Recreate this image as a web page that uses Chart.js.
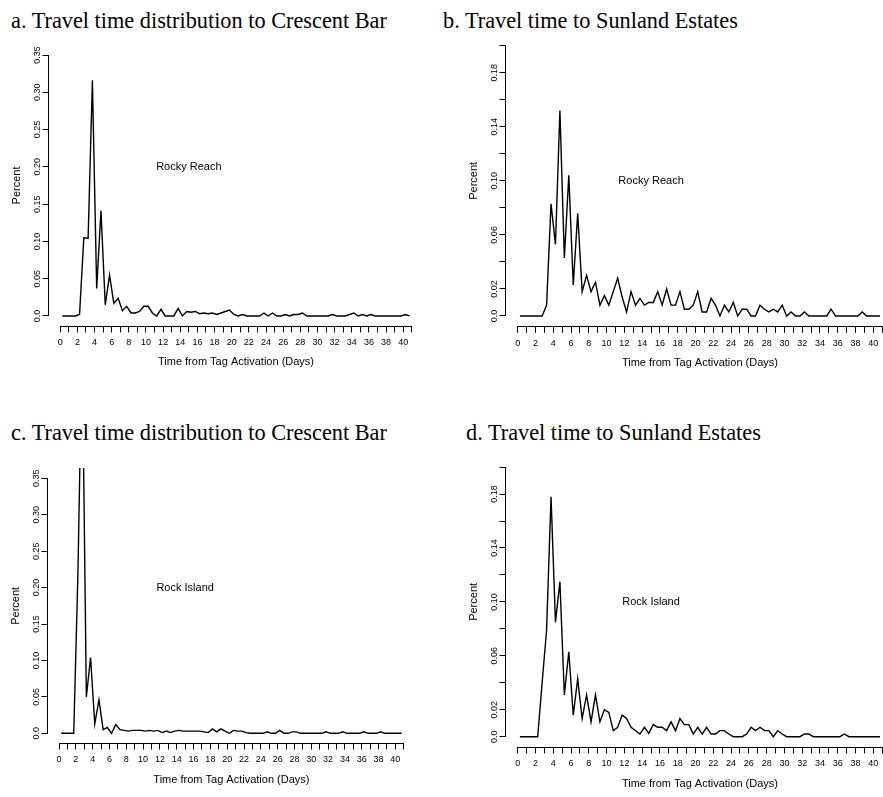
<!DOCTYPE html>
<html><head><meta charset="utf-8">
<script src="https://cdn.jsdelivr.net/npm/chart.js@4.4.1/dist/chart.umd.min.js"></script>
<style>
html,body{margin:0;padding:0;background:#fff;width:883px;height:797px;overflow:hidden;position:relative}
canvas{position:absolute}
.ttl{position:absolute;font-family:'Liberation Serif','Times New Roman',serif;font-size:22.3px;line-height:22px;white-space:nowrap;color:#000}
</style></head><body>
<div class="ttl" style="left:11px;top:10px">a. Travel time distribution to Crescent Bar</div>
<div class="ttl" style="left:443px;top:10px">b. Travel time to Sunland Estates</div>
<div class="ttl" style="left:11px;top:421.5px">c. Travel time distribution to Crescent Bar</div>
<div class="ttl" style="left:466px;top:421.5px">d. Travel time to Sunland Estates</div>
<canvas id="ca" width="430" height="332" style="left:0px;top:40px"></canvas>
<canvas id="cb" width="443" height="342" style="left:457px;top:30px"></canvas>
<canvas id="cc" width="430" height="330" style="left:-0.7px;top:460px"></canvas>
<canvas id="cd" width="443" height="343" style="left:457px;top:450px"></canvas>
<script>
// x positions (days) of the half-day bins
const days = [0.25,0.75,1.25,1.75,2.25,2.75,3.25,3.75,4.25,4.75,5.25,5.75,6.25,6.75,7.25,7.75,8.25,8.75,9.25,9.75,
  10.25,10.75,11.25,11.75,12.25,12.75,13.25,13.75,14.25,14.75,15.25,15.75,16.25,16.75,17.25,17.75,18.25,18.75,19.25,19.75,
  20.25,20.75,21.25,21.75,22.25,22.75,23.25,23.75,24.25,24.75,25.25,25.75,26.25,26.75,27.25,27.75,28.25,28.75,29.25,29.75,
  30.25,30.75,31.25,31.75,32.25,32.75,33.25,33.75,34.25,34.75,35.25,35.75,36.25,36.75,37.25,37.75,38.25,38.75,39.25,39.75,
  40.25,40.75];

// a. Rocky Reach -> Crescent Bar
const rockyReachCrescent = [0,0,0,0,0.002,0.105,0.104,0.316,0.037,0.141,
  0.015,0.055,0.017,0.024,0.007,0.013,0.004,0.004,0.006,0.013,
  0.013,0.004,0,0.009,0,0,0,0.010,0,0.006,
  0.005,0.006,0.003,0.004,0.003,0.004,0.002,0.004,0.006,0.008,
  0.002,0,0.002,0,0,0,0,0.004,0,0.004,
  0,0,0.002,0,0.002,0.002,0.004,0,0,0,
  0,0,0,0.002,0,0,0,0.002,0.004,0,
  0.002,0,0.002,0,0,0,0,0,0,0,
  0.002,0];

// b. Rocky Reach -> Sunland Estates
const rockyReachSunland = [0,0,0,0,0,0,0.008,0.083,0.053,0.152,
  0.043,0.104,0.023,0.076,0.018,0.030,0.018,0.025,0.008,0.015,
  0.008,0.018,0.028,0.014,0.003,0.018,0.008,0.013,0.008,0.010,
  0.010,0.018,0.008,0.020,0.008,0.008,0.018,0.005,0.005,0.008,
  0.018,0.003,0.003,0.013,0.008,0,0.008,0.003,0.010,0,
  0.005,0.005,0,0,0.008,0.005,0.003,0.005,0.003,0.008,
  0,0.003,0,0,0.003,0,0,0,0,0,
  0.005,0,0,0,0,0,0,0.003,0,0,
  0,0];

// c. Rock Island -> Crescent Bar (peak runs off the top of the plot)
const rockIslandCrescent = [0,0,0,0,0.22,0.54,0.050,0.104,0.013,0.046,
  0.005,0.008,0,0.012,0.005,0.004,0.003,0.004,0.004,0.004,
  0.003,0.004,0.003,0.004,0.001,0.003,0.001,0.003,0.004,0.003,
  0.003,0.003,0.003,0.003,0.002,0.001,0.006,0.002,0.006,0.003,
  0,0.004,0.003,0.003,0.001,0,0,0,0,0.002,
  0,0,0.004,0,0,0.002,0.002,0,0,0,
  0,0,0,0.002,0,0,0,0.002,0,0,
  0,0,0.002,0,0,0,0.002,0,0,0,
  0,0];

// d. Rock Island -> Sunland Estates
const rockIslandSunland = [0,0,0,0,0,0.040,0.079,0.178,0.085,0.115,
  0.031,0.063,0.016,0.043,0.0135,0.031,0.011,0.031,0.011,0.020,
  0.018,0.0045,0.007,0.016,0.0135,0.007,0.0045,0.002,0.007,0.0025,
  0.009,0.007,0.007,0.0045,0.011,0.0045,0.0135,0.009,0.009,0.002,
  0.007,0.002,0.007,0.002,0.002,0.0045,0.0045,0.002,0,0,
  0,0.002,0.007,0.0045,0.007,0.0045,0.0045,0,0.0045,0.002,
  0,0,0,0,0.002,0.002,0,0,0,0,
  0,0,0,0.002,0,0,0,0,0,0,
  0,0];

// tick labels
const xLabelDays = [0,2,4,6,8,10,12,14,16,18,20,22,24,26,28,30,32,34,36,38,40];
const xTickFirst = 0, xTickLast = 41;
const yLabelsCrescent = [0,0.05,0.10,0.15,0.20,0.25,0.30,0.35];
const yLabelsSunland = [0,0.02,0.06,0.10,0.14,0.18];
const xTitle = 'Time from Tag Activation (Days)';
const yTitle = 'Percent';

const FONT = "'Liberation Sans', Arial, Helvetica, sans-serif";

function align(p){ return Math.round(p - 0.5) + 0.5; }

const rAxes = {
  id: 'rAxes',
  afterDraw(chart, args, opts) {
    const {ctx, chartArea, scales: {x, y}} = chart;
    ctx.save();
    ctx.strokeStyle = '#000';
    ctx.lineWidth = 1;
    const xt = x.ticks, yt = y.ticks;
    const yb = align(chartArea.bottom);
    ctx.beginPath();
    ctx.moveTo(align(x.getPixelForValue(xt[0].value)) - 0.5, yb);
    ctx.lineTo(align(x.getPixelForValue(xt[xt.length - 1].value)) + 0.5, yb);
    ctx.stroke();
    const xl = align(chartArea.left);
    ctx.beginPath();
    ctx.moveTo(xl, align(y.getPixelForValue(yt[0].value)) + 0.5);
    ctx.lineTo(xl, align(y.getPixelForValue(yt[yt.length - 1].value)) - 0.5);
    ctx.stroke();
    ctx.fillStyle = '#000';
    ctx.font = '11px ' + FONT;
    ctx.textAlign = 'center';
    ctx.textBaseline = 'middle';
    ctx.fillText(opts.text, x.getPixelForValue(opts.tx), y.getPixelForValue(opts.ty));
    ctx.restore();
  }
};

function hasVal(list, v){ return list.some(l => Math.abs(l - v) < 1e-9); }

function makeChart(id, vals, cfg) {
  const gridOpts = {drawOnChartArea: false, drawTicks: true, tickLength: 6, tickColor: '#000', lineWidth: 1, color: '#000'};
  return new Chart(document.getElementById(id), {
    type: 'line',
    data: {datasets: [{
      data: days.map((d, i) => ({x: d, y: vals[i]})),
      borderColor: '#000', borderWidth: 1.4, pointRadius: 0, tension: 0, fill: false
    }]},
    options: {
      responsive: false, animation: false, devicePixelRatio: 1,
      layout: {padding: cfg.pad},
      plugins: {legend: {display: false}, tooltip: {enabled: false}, title: {display: false},
        rAxes: {text: cfg.text, tx: cfg.tx, ty: cfg.ty}},
      scales: {
        x: {
          type: 'linear', min: -1.37, max: 42.37,
          border: {display: false}, grid: gridOpts,
          ticks: {stepSize: 1, includeBounds: false, autoSkip: false, maxRotation: 0, minRotation: 0,
            padding: 5.1, color: '#000', font: {family: FONT, size: 9},
            callback: v => hasVal(xLabelDays, v) ? String(v) : ''},
          afterBuildTicks: s => { s.ticks = s.ticks.filter(t => t.value >= xTickFirst - 1e-9 && t.value <= xTickLast + 1e-9); },
          afterFit: s => { s.height = 45; },
          title: {display: true, text: xTitle, color: '#000', font: {family: FONT, size: 11}, padding: {top: 0, bottom: 2.4}}
        },
        y: {
          type: 'linear', min: cfg.yMin, max: cfg.yMax,
          border: {display: false}, grid: gridOpts,
          ticks: {stepSize: cfg.yStep, includeBounds: false, autoSkip: false, minRotation: 90, maxRotation: 90,
            crossAlign: 'center', padding: -4.25, color: '#000', font: {family: FONT, size: 9},
            callback: v => hasVal(cfg.yLabels, v) ? (Math.abs(v) < 1e-9 ? '0.0' : v.toFixed(2)) : ''},
          afterBuildTicks: s => { s.ticks = s.ticks.filter(t => t.value >= -1e-9 && t.value <= cfg.yTop + 1e-9); },
          afterFit: s => { s.width = 48.5; },
          title: {display: true, text: yTitle, color: '#000', font: {family: FONT, size: 11}, padding: {top: 10.7, bottom: 0}}
        }
      }
    },
    plugins: [rAxes]
  });
}

makeChart('ca', rockyReachCrescent, {pad: {left: 0, top: 4.6, right: 6.5, bottom: 0.6},
  yMin: -0.014, yMax: 0.364, yStep: 0.05, yTop: 0.35, yLabels: yLabelsCrescent, text: 'Rocky Reach', tx: 15, ty: 0.2});
makeChart('cb', rockyReachSunland, {pad: {left: 0, top: 4.8, right: 5.6, bottom: 0.2},
  yMin: -0.008, yMax: 0.208, yStep: 0.02, yTop: 0.2, yLabels: yLabelsSunland, text: 'Rocky Reach', tx: 15, ty: 0.1});
makeChart('cc', rockIslandCrescent, {pad: {left: 0, top: 8.1, right: 13.7, bottom: 1.5},
  yMin: -0.014, yMax: 0.364, yStep: 0.05, yTop: 0.35, yLabels: yLabelsCrescent, text: 'Rock Island', tx: 15, ty: 0.2});
makeChart('cd', rockIslandSunland, {pad: {left: 0, top: 6.3, right: 5.6, bottom: 0.5},
  yMin: -0.008, yMax: 0.208, yStep: 0.02, yTop: 0.2, yLabels: yLabelsSunland, text: 'Rock Island', tx: 15, ty: 0.1});
</script>
</body></html>
